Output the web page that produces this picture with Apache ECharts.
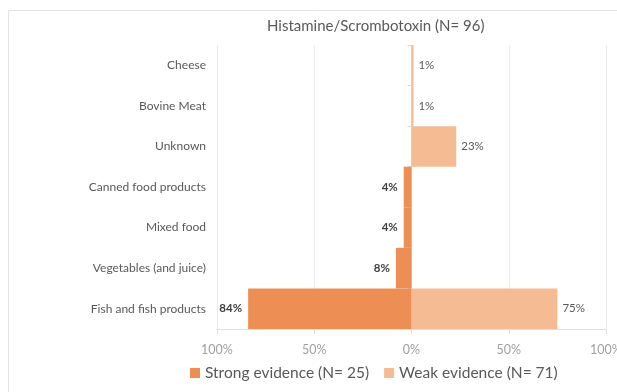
<!DOCTYPE html>
<html><head><meta charset="utf-8">
<script src="https://cdn.jsdelivr.net/npm/echarts@6/dist/echarts.min.js"></script>
<style>html,body{margin:0;padding:0;background:#fff}#c{width:617px;height:392px}</style>
</head><body><div id="c"></div>
<script>
const titleText = 'Histamine/Scrombotoxin (N= 96)';
const categories = ['Cheese','Bovine Meat','Unknown','Canned food products','Mixed food','Vegetables (and juice)','Fish and fish products'];
const strongName = 'Strong evidence (N= 25)';
const weakName = 'Weak evidence (N= 71)';
const strongValues = [0,0,0,4,4,8,84];
const weakValues = [1,1,23,0,0,0,75];
const xTicks = [-100,-50,0,50,100];

const FONT = 'Lato';
const GRID_L = 217, GRID_R = 11;
const chart = echarts.init(document.getElementById('c'));
const gridW = 617 - GRID_L - GRID_R;
chart.setOption({
  animation:false,
  textStyle:{fontFamily:FONT},
  graphic:[{type:'rect',shape:{x:8.5,y:10.5,width:640,height:420},style:{fill:'none',stroke:'#e3e3e3',lineWidth:1},silent:true}],
  title:{text:titleText,left:262,top:14,textStyle:{fontFamily:FONT,fontSize:15,fontWeight:'normal',color:'#595959'}},
  legend:{bottom:6,left:185,itemWidth:10,itemHeight:10,itemGap:15,icon:'rect',
    textStyle:{fontFamily:FONT,fontSize:15.5,color:'#595959'},data:[strongName,weakName]},
  grid:{left:GRID_L,right:GRID_R,top:45,bottom:63,containLabel:false,outerBoundsMode:'none'},
  xAxis:{type:'value',min:xTicks[0],max:xTicks[xTicks.length-1],interval:50,
    axisLine:{show:true,lineStyle:{color:'#e0e0e0'}},
    axisTick:{show:true,length:5,lineStyle:{color:'#e0e0e0'}},
    splitLine:{show:true,lineStyle:{color:'#ececec'}},
    axisLabel:{color:'#a0a0a0',fontSize:12.5,margin:14,formatter:v=>Math.abs(v)+'%'}},
  yAxis:[
    {type:'category',data:categories,inverse:true,
     axisLine:{show:false},axisTick:{show:false},
     axisLabel:{color:'#595959',fontSize:12,margin:11}},
    {type:'category',data:categories,inverse:true,position:'left',offset:-gridW/2,
     axisLine:{show:true,onZero:false,lineStyle:{color:'#d9d9d9'}},
     axisTick:{show:true,length:4,lineStyle:{color:'#d9d9d9'}},
     axisLabel:{show:false}}
  ],
  series:[
    {name:strongName,type:'bar',stack:'t',yAxisIndex:0,barCategoryGap:'0%',
     data:strongValues.map(v=>-v),
     itemStyle:{color:'#ED8F55'},
     label:{show:true,position:'left',distance:6,fontSize:11.5,fontWeight:'bold',color:'#404040',
       formatter:p=>p.value===0?'':Math.abs(p.value)+'%'}},
    {name:weakName,type:'bar',stack:'t',yAxisIndex:0,barCategoryGap:'0%',
     data:weakValues,
     itemStyle:{color:'#F5BC94'},
     label:{show:true,position:'right',distance:5,fontSize:11.5,color:'#595959',
       formatter:p=>p.value===0?'':p.value+'%'}}
  ]
});
</script></body></html>
